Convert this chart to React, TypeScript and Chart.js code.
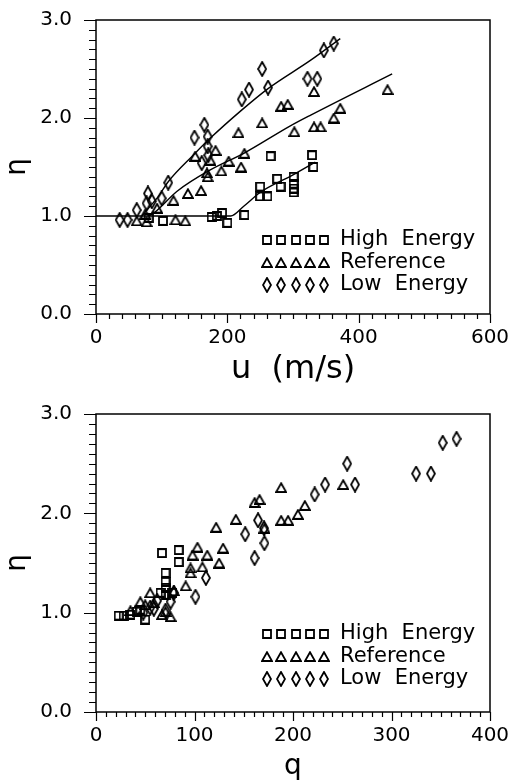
import React, { useEffect, useRef } from 'react';
import { Chart, registerables } from 'chart.js';

Chart.register(...registerables);

const FONT = "'DejaVu Sans', sans-serif";

// ---------- Top chart: eta vs u (m/s) ----------
const topHighU = [80, 102, 176, 184, 192, 200, 226, 250, 250, 261, 266, 276, 281, 301, 301, 301, 301, 329, 331];
const topHighEta = [0.98, 0.95, 0.99, 1.0, 1.03, 0.93, 1.01, 1.3, 1.2, 1.2, 1.61, 1.38, 1.3, 1.4, 1.33, 1.28, 1.24, 1.62, 1.5];

const topRefU = [62, 75, 77, 93, 118, 121, 136, 140, 151, 160, 169, 170, 174, 182, 191, 202, 217, 221, 226, 253, 282, 292, 302, 332, 332, 342, 362, 372, 444];
const topRefEta = [0.95, 1.02, 0.94, 1.08, 1.16, 0.96, 0.95, 1.23, 1.61, 1.26, 1.44, 1.4, 1.57, 1.67, 1.46, 1.56, 1.85, 1.5, 1.64, 1.95, 2.12, 2.14, 1.86, 2.27, 1.91, 1.91, 2.0, 2.1, 2.29];

const topLowU = [36, 48, 62, 77, 79, 85, 100, 110, 150, 161, 165, 170, 170, 171, 222, 233, 253, 262, 322, 337, 347, 362];
const topLowEta = [0.96, 0.96, 1.06, 1.13, 1.23, 1.15, 1.18, 1.34, 1.8, 1.54, 1.93, 1.81, 1.71, 1.62, 2.19, 2.29, 2.5, 2.31, 2.4, 2.4, 2.69, 2.76];

// fitted curves (top chart)
const highCurveU = [0, 205, 225, 250, 300, 334];
const highCurveEta = [1.0, 1.0, 1.1, 1.24, 1.42, 1.55];
const refCurveU = [80, 90, 123, 174, 225, 296, 327, 451];
const refCurveEta = [1.0, 1.04, 1.25, 1.47, 1.64, 1.92, 2.03, 2.45];
const lowCurveU = [70, 80, 95, 110, 148, 175, 220, 262, 327, 372];
const lowCurveEta = [1.0, 1.08, 1.2, 1.35, 1.62, 1.8, 2.07, 2.3, 2.59, 2.81];

// ---------- Bottom chart: eta vs q ----------
const botHighQ = [23, 28, 35, 41.6, 45, 50, 65.5, 67, 70.6, 70.6, 70.6, 70.6, 77.5, 84, 84];
const botHighEta = [0.97, 0.97, 0.98, 1.01, 1.03, 0.93, 1.2, 1.6, 1.4, 1.31, 1.25, 1.18, 1.2, 1.63, 1.51];

const botRefQ = [35, 45, 50, 55, 58.7, 67, 70.6, 75.7, 79, 91, 96, 96, 98, 103, 108, 113, 122, 125, 129, 142, 161, 166, 171, 188, 188, 195, 205, 212, 251];
const botRefEta = [1.02, 1.11, 1.08, 1.2, 1.1, 0.98, 1.01, 0.96, 1.22, 1.27, 1.4, 1.45, 1.58, 1.66, 1.46, 1.58, 1.86, 1.5, 1.65, 1.94, 2.11, 2.14, 1.85, 2.26, 1.93, 1.93, 1.99, 2.08, 2.29];

const botLowQ = [48, 55, 58.7, 62, 70.6, 75.7, 79, 101, 111.6, 151.5, 161, 164.5, 170.6, 171, 222, 232.6, 255, 263, 325, 340, 352, 366];
const botLowEta = [1.0, 1.05, 1.04, 1.12, 1.02, 1.11, 1.2, 1.16, 1.35, 1.79, 1.55, 1.93, 1.85, 1.7, 2.19, 2.29, 2.5, 2.29, 2.4, 2.4, 2.71, 2.75];

// ---------- axis ticks & legend text ----------
const yTickLabels = ['0.0', '1.0', '2.0', '3.0'];
const legendLabels = ['High  Energy', 'Reference', 'Low  Energy'];

type Shape = 'square' | 'triangle' | 'diamond';

function makeMarker(kind: Shape): HTMLCanvasElement {
  const c = document.createElement('canvas');
  let w = 10, h = 10;
  if (kind === 'triangle') { w = 12; h = 11; }
  if (kind === 'diamond') { w = 10; h = 16; }
  c.width = w; c.height = h;
  const g = c.getContext('2d')!;
  g.lineWidth = 1.8;
  g.strokeStyle = '#000';
  g.lineJoin = 'miter';
  g.beginPath();
  if (kind === 'square') {
    g.rect(1, 1, 8, 8);
  } else if (kind === 'triangle') {
    g.moveTo(6, 1.2); g.lineTo(11, 10); g.lineTo(1, 10); g.closePath();
  } else {
    g.moveTo(5, 1); g.lineTo(9, 8); g.lineTo(5, 15); g.lineTo(1, 8); g.closePath();
  }
  g.stroke();
  return c;
}

function pts(xs: number[], ys: number[]) {
  return xs.map((x, i) => ({ x, y: ys[i] }));
}

interface Cfg {
  height: number;
  xMax: number;
  xMajor: number;
  xMinor: number;
  xTitle: string;
  xTitleSize: number;
  xTitlePad: number;
  padTop: number;
  xAxisH: number;
  series: { xs: number[]; ys: number[]; shape: Shape }[];
  curves: { xs: number[]; ys: number[] }[];
}

function buildChart(canvas: HTMLCanvasElement, cfg: Cfg) {
  const markers: Record<Shape, HTMLCanvasElement> = {
    square: makeMarker('square'),
    triangle: makeMarker('triangle'),
    diamond: makeMarker('diamond'),
  };

  const framePlugin = {
    id: 'frameTicks',
    afterDraw(chart: any) {
      const { ctx, chartArea } = chart;
      const { left, right, top, bottom } = chartArea;
      const xs = chart.scales.x;
      const ys = chart.scales.y;
      ctx.save();
      ctx.strokeStyle = '#000';
      ctx.lineWidth = 1.5;
      ctx.strokeRect(left, top, right - left, bottom - top);
      ctx.lineWidth = 1.2;
      ctx.beginPath();
      const nx = Math.round(cfg.xMax / cfg.xMinor);
      for (let i = 0; i <= nx; i++) {
        const v = i * cfg.xMinor;
        const px = Math.round(xs.getPixelForValue(v)) + 0.5;
        const major = i % Math.round(cfg.xMajor / cfg.xMinor) === 0;
        ctx.moveTo(px, bottom);
        ctx.lineTo(px, bottom + (major ? 9 : 5));
      }
      for (let i = 0; i <= 30; i++) {
        const v = i * 0.1;
        const py = Math.round(ys.getPixelForValue(v)) + 0.5;
        const major = i % 10 === 0;
        ctx.moveTo(left, py);
        ctx.lineTo(left - (major ? 12 : 7), py);
      }
      ctx.stroke();

      // legend inside plot
      const shapes: Shape[] = ['square', 'triangle', 'diamond'];
      ctx.fillStyle = '#000';
      ctx.font = `21px ${FONT}`;
      ctx.textBaseline = 'middle';
      ctx.textAlign = 'left';
      for (let r = 0; r < 3; r++) {
        const y = top + 220 + r * 22.5;
        const m = markers[shapes[r]];
        for (let k = 0; k < 5; k++) {
          const cx = left + 171 + k * 14.3;
          ctx.drawImage(m, Math.round(cx - m.width / 2), Math.round(y - m.height / 2));
        }
        ctx.fillText(legendLabels[r], left + 244, y);
      }
      ctx.restore();
    },
  };

  const datasets: any[] = [];
  cfg.curves.forEach((c) => {
    datasets.push({
      data: pts(c.xs, c.ys),
      showLine: true,
      borderColor: '#000',
      borderWidth: 1.4,
      pointRadius: 0,
      cubicInterpolationMode: 'monotone',
      fill: false,
    });
  });
  cfg.series.forEach((s) => {
    datasets.push({
      data: pts(s.xs, s.ys),
      showLine: false,
      pointStyle: markers[s.shape],
      pointRadius: 5,
      borderColor: '#000',
    });
  });

  return new Chart(canvas, {
    type: 'scatter',
    data: { datasets },
    plugins: [framePlugin],
    options: {
      animation: false,
      responsive: false,
      maintainAspectRatio: false,
      devicePixelRatio: 1,
      events: [],
      layout: { padding: { top: cfg.padTop, right: 20, left: 0, bottom: 0 } },
      plugins: { legend: { display: false }, tooltip: { enabled: false } },
      scales: {
        x: {
          type: 'linear',
          min: 0,
          max: cfg.xMax,
          grid: { display: false, drawTicks: false },
          border: { display: false },
          ticks: {
            stepSize: cfg.xMajor,
            color: '#000',
            font: { family: FONT, size: 20 },
            padding: 12,
            maxRotation: 0,
            autoSkip: false,
          },
          title: {
            display: true,
            text: cfg.xTitle,
            color: '#000',
            font: { family: FONT, size: cfg.xTitleSize, lineHeight: 1 },
            padding: { top: 0, bottom: cfg.xTitlePad },
          },
          afterFit: (s: any) => {
            s.height = cfg.xAxisH;
            s.paddingLeft = 0;
            s.paddingRight = 0;
          },
        },
        y: {
          type: 'linear',
          min: 0,
          max: 3,
          grid: { display: false, drawTicks: false },
          border: { display: false },
          ticks: {
            stepSize: 1,
            color: '#000',
            font: { family: FONT, size: 20 },
            padding: 24,
            callback: (v: any) => yTickLabels[Math.round(Number(v))] ?? '',
          },
          title: {
            display: true,
            text: 'η',
            color: '#000',
            font: { family: FONT, size: 28, lineHeight: 1 },
            padding: { top: 4, bottom: 0 },
          },
          afterFit: (s: any) => {
            s.width = 96;
            s.paddingTop = 0;
            s.paddingBottom = 0;
          },
        },
      },
    } as any,
  });
}

function ChartBox(props: { cfg: Cfg; top: number }) {
  const ref = useRef<HTMLCanvasElement>(null);
  useEffect(() => {
    const chart = buildChart(ref.current!, props.cfg);
    return () => chart.destroy();
  }, []);
  return (
    <canvas
      ref={ref}
      width={510}
      height={props.cfg.height}
      style={{ position: 'absolute', left: 0, top: props.top, width: 510, height: props.cfg.height, display: 'block' }}
    />
  );
}

const topCfg: Cfg = {
  height: 392,
  xMax: 600,
  xMajor: 200,
  xMinor: 20,
  xTitle: 'u  (m/s)',
  xTitleSize: 32,
  xTitlePad: 6,
  padTop: 20,
  xAxisH: 78,
  series: [
    { xs: topHighU, ys: topHighEta, shape: 'square' },
    { xs: topRefU, ys: topRefEta, shape: 'triangle' },
    { xs: topLowU, ys: topLowEta, shape: 'diamond' },
  ],
  curves: [
    { xs: highCurveU, ys: highCurveEta },
    { xs: refCurveU, ys: refCurveEta },
    { xs: lowCurveU, ys: lowCurveEta },
  ],
};

const botCfg: Cfg = {
  height: 391,
  xMax: 400,
  xMajor: 100,
  xMinor: 10,
  xTitle: 'q',
  xTitleSize: 28,
  xTitlePad: 2,
  padTop: 22,
  xAxisH: 71,
  series: [
    { xs: botHighQ, ys: botHighEta, shape: 'square' },
    { xs: botRefQ, ys: botRefEta, shape: 'triangle' },
    { xs: botLowQ, ys: botLowEta, shape: 'diamond' },
  ],
  curves: [],
};

export default function App() {
  return (
    <div style={{ position: 'absolute', left: 0, top: 0, width: 510, height: 783, background: '#fff' }}>
      <ChartBox cfg={topCfg} top={0} />
      <ChartBox cfg={botCfg} top={392} />
    </div>
  );
}
